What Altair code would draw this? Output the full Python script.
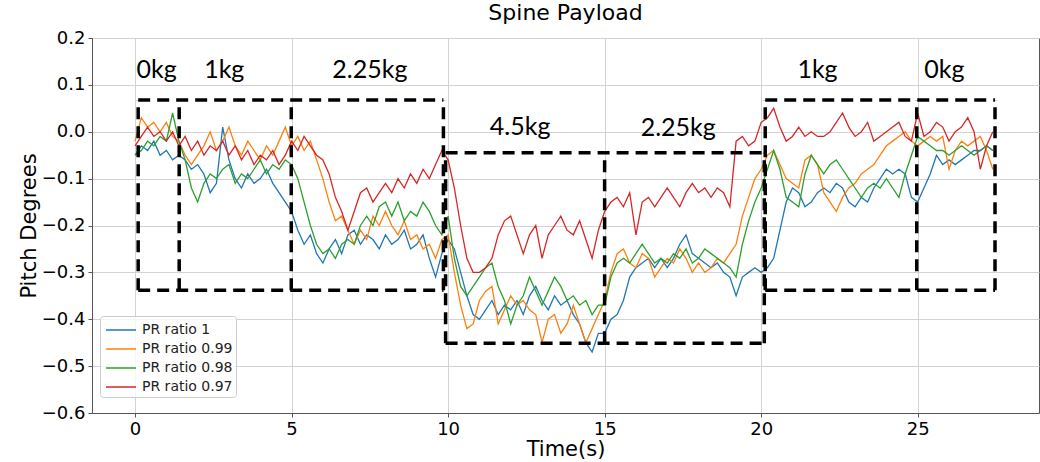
import altair as alt
import pandas as pd

# ---- data ----
series_names = ["PR ratio 1", "PR ratio 0.99", "PR ratio 0.98", "PR ratio 0.97"]
series_colors = ["#1f77b4", "#ff7f0e", "#2ca02c", "#d62728"]

time_s = [round(i * 0.2, 1) for i in range(138)]

pr_100 = [
    -0.05, -0.03, -0.04, -0.02, -0.05,
    -0.04, -0.06, -0.05, -0.06, -0.08,
    -0.07, -0.09, -0.13, -0.11, 0.01,
    -0.06, -0.10, -0.12, -0.09, -0.11,
    -0.10, -0.08, -0.11, -0.13, -0.15,
    -0.17, -0.21, -0.24, -0.22, -0.26,
    -0.28, -0.25, -0.23, -0.26, -0.22,
    -0.21, -0.24, -0.22, -0.23, -0.25,
    -0.22, -0.24, -0.23, -0.21, -0.25,
    -0.24, -0.22, -0.27, -0.31, -0.26,
    -0.23, -0.25, -0.30, -0.35, -0.39,
    -0.40, -0.38, -0.36, -0.39, -0.37,
    -0.38, -0.36, -0.39, -0.35, -0.33,
    -0.36, -0.38, -0.35, -0.37, -0.36,
    -0.39, -0.41, -0.45, -0.47, -0.43,
    -0.43, -0.40, -0.39, -0.36, -0.31,
    -0.29, -0.28, -0.27, -0.29, -0.27,
    -0.29, -0.27, -0.24, -0.22, -0.26,
    -0.27, -0.28, -0.29, -0.28, -0.30,
    -0.31, -0.35, -0.31, -0.30, -0.29,
    -0.30, -0.29, -0.27, -0.21, -0.15,
    -0.12, -0.13, -0.16, -0.15, -0.13,
    -0.12, -0.13, -0.11, -0.12, -0.15,
    -0.16, -0.14, -0.15, -0.12, -0.10,
    -0.08, -0.09, -0.08, -0.09, -0.14,
    -0.15, -0.12, -0.09, -0.05, -0.07,
    -0.06, -0.07, -0.06, -0.05, -0.04,
    -0.04, -0.03, -0.04,
]

pr_099 = [
    -0.02, 0.03, 0.01, 0.02, 0.00,
    0.02, -0.01, -0.02, -0.05, -0.07,
    -0.05, -0.03, 0.00, -0.04, -0.02,
    0.01, -0.03, -0.05, -0.02, -0.04,
    -0.06, -0.03, -0.05, -0.02, 0.01,
    -0.03, -0.01, -0.04, -0.02, -0.06,
    -0.10, -0.15, -0.19, -0.18, -0.21,
    -0.24, -0.21, -0.23, -0.18, -0.20,
    -0.17, -0.20, -0.22, -0.19, -0.23,
    -0.22, -0.25, -0.24, -0.27, -0.23,
    -0.22, -0.30, -0.37, -0.42, -0.41,
    -0.36, -0.34, -0.33, -0.41, -0.38,
    -0.35, -0.37, -0.36, -0.38, -0.39,
    -0.45, -0.40, -0.39, -0.43, -0.41,
    -0.37, -0.41, -0.45, -0.42, -0.39,
    -0.36, -0.30, -0.26, -0.25, -0.28,
    -0.29, -0.26, -0.27, -0.31, -0.29,
    -0.27, -0.28, -0.25, -0.27, -0.30,
    -0.28, -0.30, -0.29, -0.27, -0.28,
    -0.26, -0.24, -0.18, -0.14, -0.10,
    -0.08, -0.05, -0.04, -0.07, -0.10,
    -0.11, -0.12, -0.06, -0.05, -0.07,
    -0.13, -0.15, -0.17, -0.14, -0.12,
    -0.11, -0.09, -0.08, -0.07, -0.05,
    -0.03, -0.02, -0.01, 0.00, -0.02,
    -0.03, -0.02, -0.01, -0.02, -0.01,
    -0.08, -0.04, -0.02, -0.03, -0.02,
    -0.01, -0.04, -0.08,
]

pr_098 = [
    -0.05, -0.04, -0.02, -0.03, -0.01,
    -0.02, 0.04, -0.02, -0.06, -0.12,
    -0.15, -0.11, -0.09, -0.10, -0.08,
    -0.07, -0.11, -0.09, -0.10, -0.08,
    -0.06, -0.09, -0.07, -0.08, -0.06,
    -0.07, -0.10, -0.15, -0.20, -0.24,
    -0.26, -0.25, -0.27, -0.24, -0.23,
    -0.24, -0.20, -0.18, -0.20, -0.16,
    -0.15, -0.18, -0.15, -0.19, -0.17,
    -0.18, -0.15, -0.17, -0.20, -0.22,
    -0.18, -0.27, -0.33, -0.35, -0.33,
    -0.31, -0.29, -0.28, -0.33, -0.36,
    -0.41, -0.37, -0.35, -0.31, -0.34,
    -0.37, -0.34, -0.31, -0.33, -0.36,
    -0.35, -0.37, -0.36, -0.39, -0.37,
    -0.37, -0.31, -0.28, -0.27, -0.28,
    -0.26, -0.24, -0.26, -0.28, -0.27,
    -0.28, -0.26, -0.27, -0.25, -0.28,
    -0.27, -0.25, -0.26, -0.27, -0.28,
    -0.29, -0.31, -0.24, -0.19, -0.15,
    -0.12, -0.08, -0.04, -0.08, -0.14,
    -0.15, -0.16, -0.09, -0.05, -0.07,
    -0.09, -0.07, -0.06, -0.08, -0.10,
    -0.12, -0.14, -0.12, -0.11, -0.12,
    -0.10, -0.12, -0.14, -0.09, -0.05,
    -0.01, -0.02, -0.03, -0.04, -0.04,
    -0.05, -0.04, -0.03, -0.04, -0.05,
    -0.04, -0.03, -0.04,
]

pr_097 = [
    -0.03, -0.01, 0.01, -0.01, 0.00,
    -0.02, 0.00, -0.03, -0.01, -0.04,
    -0.02, -0.05, -0.03, -0.04, -0.02,
    -0.05, -0.03, -0.06, -0.04, -0.07,
    -0.05, -0.06, -0.04, -0.07, -0.05,
    -0.02, -0.04, -0.01, -0.03, -0.05,
    -0.06, -0.09, -0.14, -0.17, -0.21,
    -0.17, -0.13, -0.12, -0.15, -0.13,
    -0.11, -0.13, -0.10, -0.12, -0.09,
    -0.11, -0.08, -0.10, -0.07, -0.04,
    -0.06, -0.12, -0.20, -0.27, -0.30,
    -0.30, -0.29, -0.27, -0.22, -0.19,
    -0.18, -0.22, -0.26, -0.22, -0.20,
    -0.27, -0.22, -0.20, -0.18, -0.21,
    -0.22, -0.19, -0.23, -0.27, -0.21,
    -0.17, -0.15, -0.14, -0.16, -0.13,
    -0.22, -0.15, -0.14, -0.16, -0.14,
    -0.12, -0.14, -0.16, -0.13, -0.11,
    -0.13, -0.12, -0.14, -0.12, -0.13,
    -0.16, -0.02, -0.01, -0.03, -0.02,
    0.02, 0.03, 0.05, 0.01, -0.02,
    -0.01, 0.01, -0.01, 0.00, -0.01,
    -0.01, 0.00, 0.02, 0.04, 0.01,
    -0.01, 0.00, 0.02, -0.02, -0.01,
    0.00, 0.01, 0.02, -0.01, -0.02,
    0.04, -0.01, 0.00, 0.02, 0.01,
    -0.02, 0.00, 0.01, 0.03, 0.00,
    -0.08, -0.03, 0.00,
]

# payload boxes: vertical dashed edges (shared edges drawn once)
vert_x = [0.1, 1.41, 4.99, 9.85, 9.92, 15.0, 20.1, 20.13, 24.97, 27.47]
vert_y0 = [-0.338, -0.338, -0.338, -0.338, -0.451, -0.451, -0.451, -0.338, -0.338, -0.338]
vert_y1 = [0.068, 0.068, 0.068, 0.068, -0.045, -0.045, -0.045, 0.068, 0.068, 0.068]
# horizontal dashed edges
horiz_x0 = [0.1, 0.1, 9.92, 9.92, 20.13, 20.13]
horiz_x1 = [9.85, 9.85, 20.1, 20.1, 27.47, 27.47]
horiz_y = [0.068, -0.338, -0.045, -0.451, 0.068, -0.338]

# payload labels
label_text = ["0kg", "1kg", "2.25kg", "4.5kg", "2.25kg", "1kg", "0kg"]
label_x = [0.69, 2.85, 7.5, 12.3, 17.35, 21.8, 25.85]
label_y = [0.132, 0.132, 0.132, 0.011, 0.008, 0.132, 0.132]

x_ticks = [0, 5, 10, 15, 20, 25]
y_ticks = [-0.6, -0.5, -0.4, -0.3, -0.2, -0.1, 0.0, 0.1, 0.2]

# ---- build tables ----
all_values = [pr_100, pr_099, pr_098, pr_097]
rows = []
for name, vals in zip(series_names, all_values):
    for t, v in zip(time_s, vals):
        rows.append({"t": t, "v": v, "series": name})
lines_df = pd.DataFrame(rows)

vert_df = pd.DataFrame({"x": vert_x, "y0": vert_y0, "y1": vert_y1})
horiz_df = pd.DataFrame({"x0": horiz_x0, "x1": horiz_x1, "y": horiz_y})
labels_df = pd.DataFrame({"x": label_x, "y": label_y, "text": label_text})

x_scale = alt.Scale(domain=[-1.375, 28.875], nice=False, zero=False)
y_scale = alt.Scale(domain=[-0.6, 0.2], nice=False, zero=False)
x_axis = alt.Axis(values=x_ticks, format="d", title="Time(s)")
y_axis = alt.Axis(values=y_ticks, format=".1f", title="Pitch Degrees")

color_enc = alt.Color(
    "series:N",
    scale=alt.Scale(domain=series_names, range=series_colors),
    title=None,
    legend=alt.Legend(
        orient="none",
        legendX=8,
        legendY=278,
        symbolType="M-1.5,0H1.5",
        symbolSize=400,
        symbolStrokeWidth=1.5,
        symbolOffset=7,
        labelFont="DejaVu Sans",
        labelFontSize=14,
        labelColor="#222222",
        labelOffset=10,
        padding=3,
        rowPadding=1,
        fillColor="rgba(255,255,255,0.8)",
        strokeColor="#cccccc",
        cornerRadius=3,
    ),
)

base = alt.Chart(lines_df)
line_layers = []
for name in series_names:
    line_layers.append(
        base.transform_filter(alt.datum.series == name)
        .mark_line(strokeWidth=1.3)
        .encode(
            x=alt.X("t:Q", scale=x_scale, axis=x_axis),
            y=alt.Y("v:Q", scale=y_scale, axis=y_axis),
            color=color_enc,
        )
    )

dash_style = dict(color="black", strokeWidth=3.5, strokeDash=[12, 7], strokeCap="butt")

vert_edges = alt.Chart(vert_df).mark_rule(**dash_style).encode(
    x=alt.X("x:Q", scale=x_scale, axis=x_axis),
    y=alt.Y("y0:Q", scale=y_scale, axis=y_axis),
    y2="y1:Q",
)

horiz_edges = alt.Chart(horiz_df).mark_rule(**dash_style).encode(
    x=alt.X("x0:Q", scale=x_scale, axis=x_axis),
    x2="x1:Q",
    y=alt.Y("y:Q", scale=y_scale, axis=y_axis),
)

labels = alt.Chart(labels_df).mark_text(
    font="Lato", fontSize=25, align="center", baseline="middle", color="black"
).encode(
    x=alt.X("x:Q", scale=x_scale, axis=x_axis),
    y=alt.Y("y:Q", scale=y_scale, axis=y_axis),
    text="text:N",
)

chart = (
    alt.layer(*line_layers, horiz_edges, vert_edges, labels)
    .properties(
        width=947,
        height=375,
        autosize=alt.AutoSizeParams(type="none"),
        padding={"left": 92, "top": 38, "right": 1, "bottom": 49},
        title=alt.TitleParams(
            text="Spine Payload",
            fontSize=22,
            font="DejaVu Sans",
            fontWeight="normal",
            color="black",
            offset=4,
        ),
    )
    .configure_view(stroke="#555555", strokeWidth=1)
    .configure_axis(
        domainColor="#555555",
        tickColor="#555555",
        tickSize=4,
        labelFont="DejaVu Sans",
        labelFontSize=18,
        labelColor="black",
        labelPadding=3,
        titleFont="DejaVu Sans",
        titleFontSize=21,
        titleFontWeight="normal",
        titleColor="black",
        gridColor="#d3d3d3",
        gridWidth=1,
    )
    .configure_axisX(titlePadding=0)
    .configure_axisY(titlePadding=2)
)

chart.save("out.html", embed_options={"renderer": "svg", "actions": False})
